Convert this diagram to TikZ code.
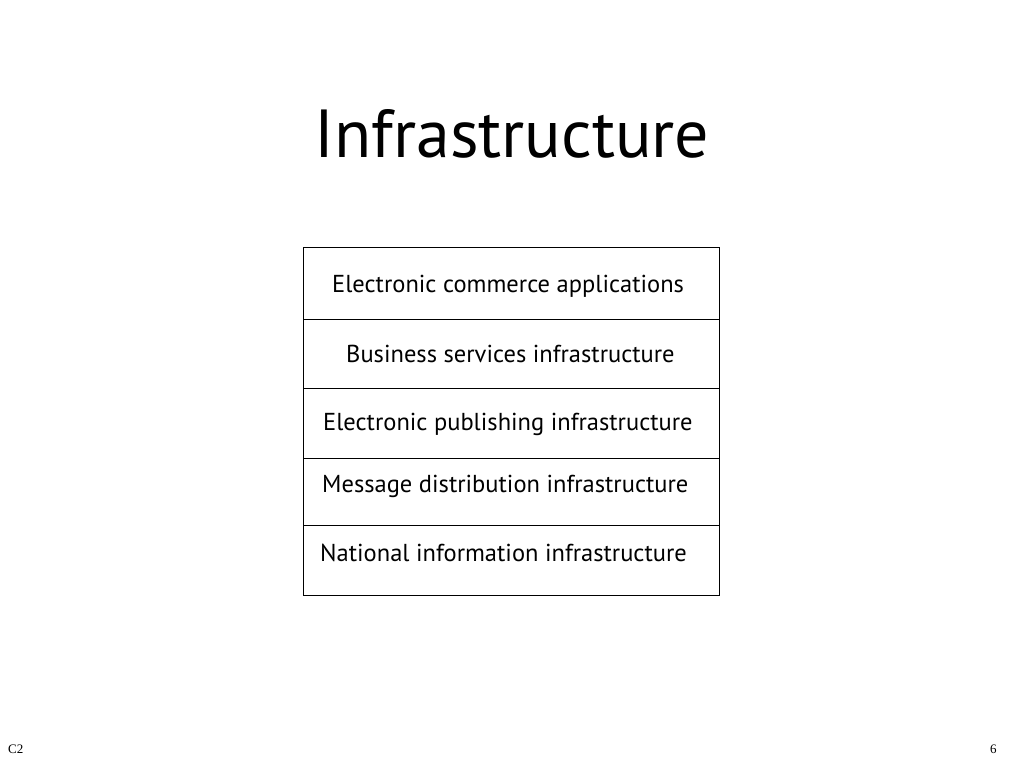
\documentclass[tikz,border=0pt]{standalone}
\usepackage{fontspec}
\setmainfont{PT Sans}
\newfontfamily\footfont{Liberation Serif}
\begin{document}
\begin{tikzpicture}[x=1pt,y=-1pt,
  layer/.style={draw,line width=1.3pt,minimum width=416pt,anchor=north west,inner sep=0pt},
  lbl/.style={font=\fontsize{24.5}{26}\selectfont,anchor=base west,inner sep=0pt},
  foot/.style={font=\footfont\fontsize{13}{15}\selectfont,inner sep=0pt,anchor=base west}]
\useasboundingbox (0,0) rectangle (1024,768);
\node[font=\fontsize{68}{74}\selectfont,inner sep=0pt,anchor=base] (title) at (512,157) {Infrastructure};
\node[layer,minimum height=72pt] (l1) at (303,247) {};
\node[layer,minimum height=69pt] (l2) at (303,319) {};
\node[layer,minimum height=70pt] (l3) at (303,388) {};
\node[layer,minimum height=67pt] (l4) at (303,458) {};
\node[layer,minimum height=70pt] (l5) at (303,525) {};
\node[lbl] (t1) at (332,292) {Electronic commerce applications};
\node[lbl] (t2) at (346,362) {Business services infrastructure};
\node[lbl] (t3) at (323,430) {Electronic publishing infrastructure};
\node[lbl] (t4) at (322,492) {Message distribution infrastructure};
\node[lbl] (t5) at (320,561) {National information infrastructure};
\node[foot] (c2) at (8,753) {C2};
\node[foot] (pg) at (990,753) {6};
\end{tikzpicture}
\end{document}
